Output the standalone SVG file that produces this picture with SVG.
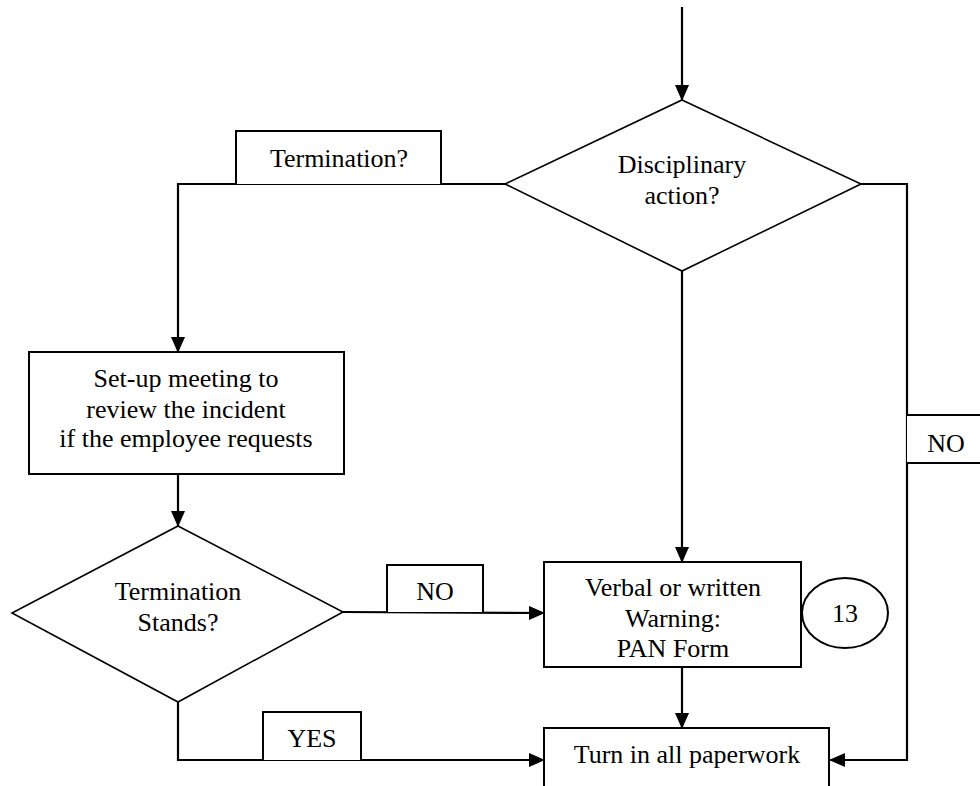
<svg xmlns="http://www.w3.org/2000/svg" width="980" height="786" viewBox="0 0 980 786">
<style>
  .box { fill: #fff; stroke: #000; stroke-width: 2; }
  .dia { fill: #fff; stroke: #000; stroke-width: 1.6; }
  .lbl { fill: #fff; stroke: #000; stroke-width: 2; }
  .conn { fill: none; stroke: #000; stroke-width: 2.2; }
  text { font-family: "Liberation Serif", "Times New Roman", "DejaVu Serif", serif; font-size: 26px; fill: #000; text-anchor: middle; }
</style>
<defs>
  <marker id="arr" markerWidth="16" markerHeight="14" refX="15" refY="7" orient="auto" markerUnits="userSpaceOnUse">
    <path d="M0,0 L16,7 L0,14 Z" fill="#000"/>
  </marker>
</defs>
<rect width="980" height="786" fill="#fff"/>

<g id="connectors">
  <line class="conn" x1="682" y1="7" x2="682" y2="100" marker-end="url(#arr)"/>
  <polyline class="conn" points="505,184 178,184 178,352" marker-end="url(#arr)"/>
  <line class="conn" x1="682" y1="271" x2="682" y2="562" marker-end="url(#arr)"/>
  <polyline class="conn" points="861,184 907,184 907,760 830,760" marker-end="url(#arr)"/>
  <line class="conn" x1="178" y1="474" x2="178" y2="526" marker-end="url(#arr)"/>
  <line class="conn" x1="343" y1="612" x2="544" y2="613" marker-end="url(#arr)"/>
  <polyline class="conn" points="178,702 178,760 544,760" marker-end="url(#arr)"/>
  <line class="conn" x1="682" y1="667" x2="682" y2="728" marker-end="url(#arr)"/>
</g>

<g id="lbl-termination">
  <polyline class="lbl" points="236,184 236,131 441,131 441,184"/>
  <text x="339" y="167" font-family="Liberation Serif, serif">Termination?</text>
</g>

<g id="disciplinary">
  <polygon class="dia" points="682,100 861,184 682,271 505,184"/>
  <text x="682" y="173">Disciplinary</text>
  <text x="682" y="204">action?</text>
</g>

<g id="setup">
  <rect class="box" x="29" y="352" width="315" height="122"/>
  <text x="186" y="387">Set-up meeting to</text>
  <text x="186" y="418">review the incident</text>
  <text x="186" y="447">if the employee requests</text>
</g>

<g id="lbl-no-right">
  <polyline class="lbl" points="907,415 990,415 990,463 907,463"/>
  <text x="946" y="452">NO</text>
</g>

<g id="termination-stands">
  <polygon class="dia" points="178,526 343,612 178,702 12,613"/>
  <text x="178" y="600">Termination</text>
  <text x="178" y="631">Stands?</text>
</g>

<g id="lbl-no">
  <polyline class="lbl" points="387,612 387,565 483,565 483,612"/>
  <text x="435" y="600">NO</text>
</g>

<g id="verbal">
  <rect class="box" x="544" y="562" width="257" height="105"/>
  <text x="673" y="596">Verbal or written</text>
  <text x="673" y="627">Warning:</text>
  <text x="673" y="657">PAN Form</text>
</g>

<g id="ref-13">
  <ellipse class="box" cx="845" cy="613" rx="43" ry="35"/>
  <text x="845" y="622">13</text>
</g>

<g id="lbl-yes">
  <polyline class="lbl" points="263,760 263,712 361,712 361,760"/>
  <text x="312" y="747">YES</text>
</g>

<g id="turnin">
  <rect class="box" x="544" y="728" width="285" height="80"/>
  <text x="687" y="763">Turn in all paperwork</text>
</g>
</svg>
